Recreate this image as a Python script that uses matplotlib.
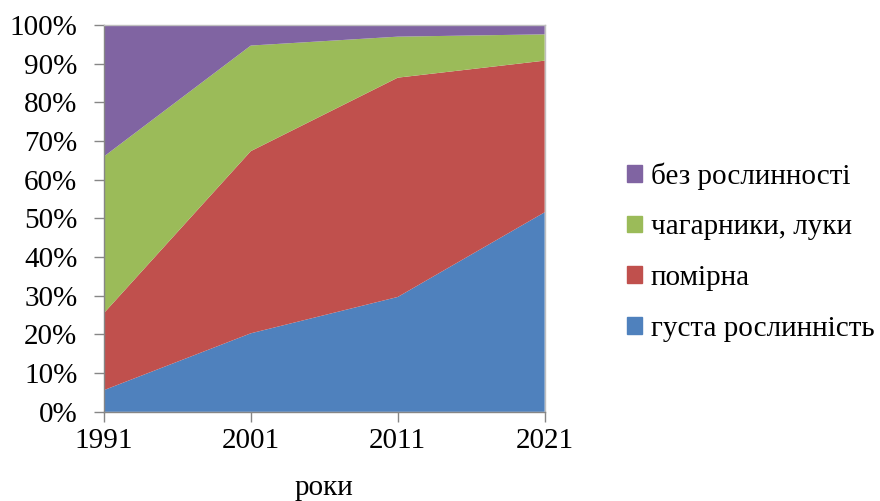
import matplotlib.pyplot as plt
from matplotlib.patches import Patch
from matplotlib.ticker import PercentFormatter

years = [1991, 2001, 2011, 2021]
labels = ['густа рослинність', 'помірна', 'чагарники, луки', 'без рослинності']
colors = ['#4F81BD', '#C0504D', '#9BBB59', '#8064A2']

# частки, % (читаються з графіка)
dense = [5.6, 20.3, 29.7, 51.6]
moderate = [19.9, 47.1, 56.7, 39.2]
shrubs = [40.5, 27.3, 10.6, 6.8]
bare = [34.0, 5.3, 3.0, 2.4]

plt.rcParams['font.family'] = ['Liberation Serif', 'DejaVu Serif']
plt.rcParams['font.size'] = 21

fig = plt.figure(figsize=(8.8, 5.01), dpi=100)
ax = fig.add_axes([0.118, 0.178, 0.501, 0.772])

ax.stackplot(years, dense, moderate, shrubs, bare, colors=colors, linewidth=0)

ax.set_xlim(years[0], years[-1])
ax.set_ylim(0, 100)
ax.set_xticks(years)
ax.set_yticks(range(0, 101, 10))
ax.yaxis.set_major_formatter(PercentFormatter(decimals=0))
ax.tick_params(axis='both', color='#868686', length=7, width=1, labelsize=21)
ax.tick_params(axis='y', pad=12)
ax.tick_params(axis='x', pad=5)
for s in ax.spines.values():
    s.set_color('#bfbfbf')
    s.set_linewidth(1)
ax.spines['left'].set_color('#868686')
ax.spines['bottom'].set_color('#868686')

ax.set_xlabel('роки', fontsize=21, labelpad=15)

handles = [Patch(facecolor=c, edgecolor=c) for c in colors]
fig.legend(handles[::-1], labels[::-1], loc='center left',
           bbox_to_anchor=(0.713, 0.497), frameon=False, fontsize=21,
           handlelength=0.5, handleheight=0.5, handletextpad=0.3,
           labelspacing=0.85, borderaxespad=0, borderpad=0)

fig.savefig('out.png', dpi=100)
